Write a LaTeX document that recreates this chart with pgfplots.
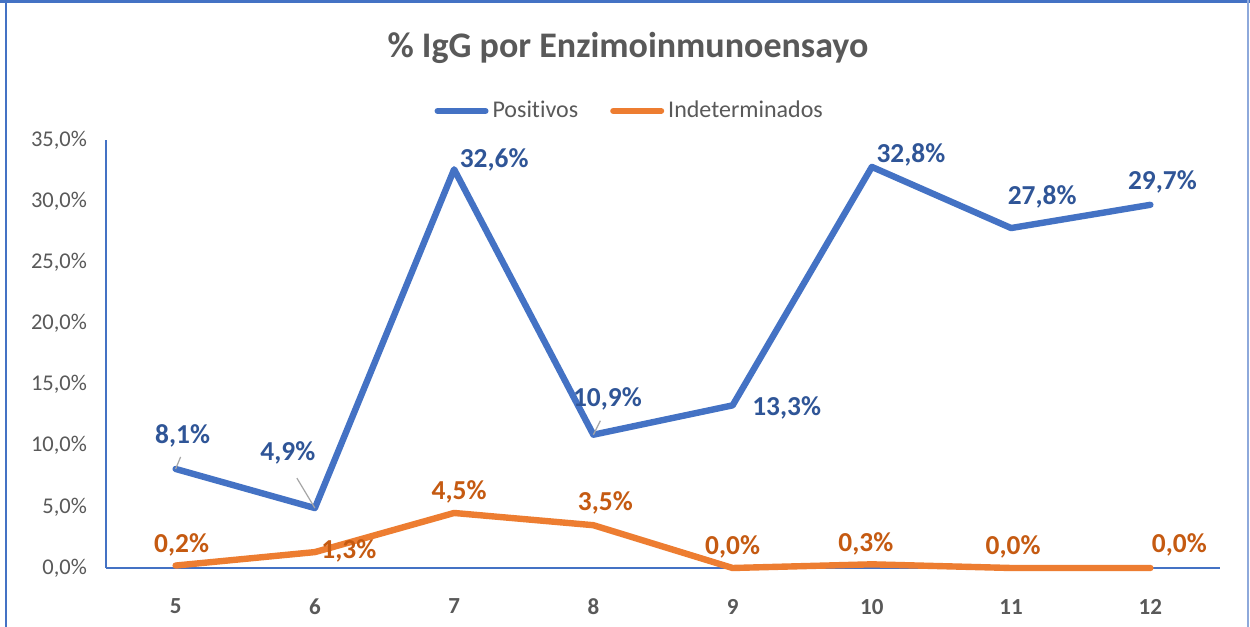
\documentclass[border=0pt]{standalone}
\usepackage{pgfplots}
\pgfplotsset{compat=1.18}
\usepackage{pgfplotstable}
\usepackage{fontspec}
\setmainfont{Carlito}[Ligatures={TeX,NoCommon}]
\definecolor{cblue}{HTML}{4472C4}
\definecolor{corange}{HTML}{ED7D31}
\definecolor{lblue}{HTML}{2F5597}
\definecolor{lorange}{HTML}{C55A11}
\definecolor{tgray}{HTML}{595959}
\definecolor{bordl}{HTML}{8EA9DB}
\pgfplotstableread{
x y dx dy
0 8.1 3.5 16.5
1 4.9 -13.5 27.5
2 32.6 20 4.5
3 10.9 7 18
4 13.3 27 -1.5
5 32.8 19.5 6
6 27.8 15.5 15.5
7 29.7 6 11.5
}\positivos
\pgfplotstableread{
x y dx dy
0 0.2 3 10.5
1 1.3 17 0.5
2 4.5 2.5 10.5
3 3.5 6 11
4 0.0 0 10.5
5 0.3 -3 10
6 0.0 1 10.5
7 0.0 14.5 11.5
}\indet
\begin{document}
\begin{tikzpicture}
\useasboundingbox (0,0) rectangle (625pt,313.5pt);
\fill[white] (0,0) rectangle (625pt,313.5pt);
\draw[cblue, line width=1.5pt] (0,312.75pt) -- (625pt,312.75pt);
\draw[cblue, line width=1pt] (3pt,0) -- (3pt,313.5pt);
\draw[bordl, line width=0.6pt] (624pt,0) -- (624pt,313.5pt);
\node[text=tgray, font=\fontsize{18}{20}\selectfont\bfseries] at (314pt,289.5pt) {\% IgG por Enzimoinmunoensayo};
\begin{axis}[
  at={(53pt,29.5pt)}, anchor=south west,
  scale only axis, width=557pt, height=214pt,
  xmin=-0.5, xmax=7.5, ymin=0, ymax=35,
  axis x line*=bottom, axis y line*=left,
  axis line style={cblue, line width=0.9pt, -},
  xtick={0,...,7}, xticklabels={5,6,7,8,9,10,11,12},
  ytick={0,5,...,35},
  major tick length=0pt,
  xticklabel style={text=tgray, font=\fontsize{11.5}{13}\selectfont\bfseries, yshift=-12pt},
  yticklabel style={text=tgray, font=\fontsize{11.25}{13}\selectfont, xshift=-6pt},
  yticklabel={\pgfmathprintnumber[fixed,fixed zerofill,precision=1,use comma,assume math mode=true]{\tick}\%},
  clip=false,
  legend columns=2,
  legend style={at={(0.471,1.068)}, anchor=center, draw=none, fill=none,
    font=\fontsize{12}{14}\selectfont, text=tgray, inner sep=0pt,
    /tikz/every even column/.append style={column sep=14pt}},
  legend image code/.code={\draw[#1, line width=3pt, line cap=round] (0pt,0pt) -- (24pt,0pt);},
  every node near coord/.append style={font=\fontsize{13.7}{15}\selectfont\bfseries, inner sep=0pt},
]
\addplot[cblue, line width=3.2pt, line join=round, line cap=round,
  nodes near coords={\pgfmathprintnumber[fixed,fixed zerofill,precision=1,use comma,assume math mode=true]{\pgfplotspointmeta}\%},
  point meta=y,
  visualization depends on={\thisrow{dx}\as\dx},
  visualization depends on={\thisrow{dy}\as\dy},
  every node near coord/.append style={text=lblue, anchor=center, xshift=\dx pt, yshift=\dy pt}]
  table[x=x,y=y] {\positivos};
\addlegendentry{Positivos}
\addplot[corange, line width=3.2pt, line join=round, line cap=round,
  nodes near coords={\pgfmathprintnumber[fixed,fixed zerofill,precision=1,use comma,assume math mode=true]{\pgfplotspointmeta}\%},
  point meta=y,
  visualization depends on={\thisrow{dx}\as\dx},
  visualization depends on={\thisrow{dy}\as\dy},
  every node near coord/.append style={text=lorange, anchor=center, xshift=\dx pt, yshift=\dy pt}]
  table[x=x,y=y] {\indet};
\addlegendentry{Indeterminados}
\draw[gray!70, line width=0.6pt] (axis cs:0,8.1) -- ++(2.5pt,6pt);
\draw[gray!70, line width=0.6pt] (axis cs:1,4.9) -- ++(-9pt,15pt);
\draw[gray!70, line width=0.6pt] (axis cs:3,10.9) -- ++(3.5pt,7pt);
\end{axis}
\end{tikzpicture}
\end{document}
